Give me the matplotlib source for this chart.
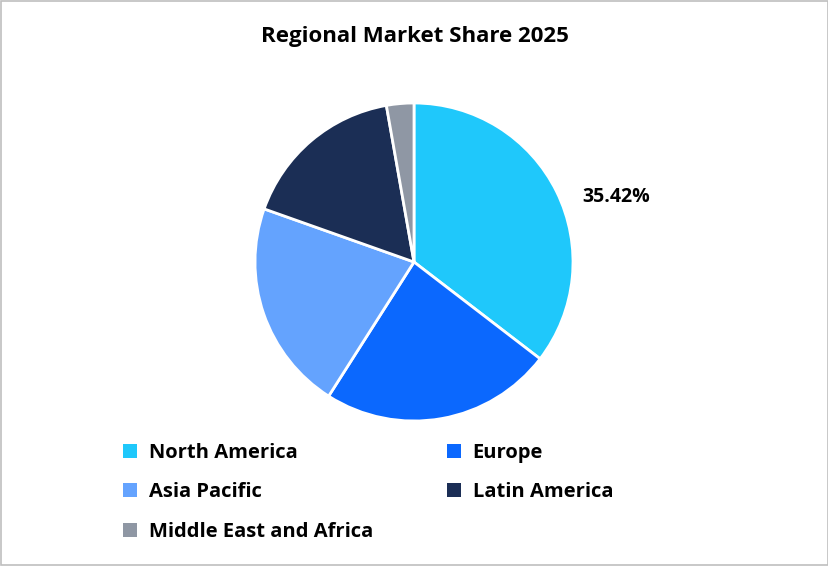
import matplotlib.pyplot as plt
from matplotlib.patches import Patch, Rectangle

regions = ['North America', 'Europe', 'Asia Pacific', 'Latin America', 'Middle East and Africa']
shares = [35.42, 23.6, 21.4, 16.8, 2.78]
colors = ['#1FC8FB', '#0B68FE', '#64A3FE', '#1B2E55', '#8F97A4']

plt.rcParams['font.family'] = ['Open Sans', 'DejaVu Sans']

fig = plt.figure(figsize=(8.29, 5.66), dpi=100)
fig.patches.append(Rectangle((0.001, 0.001), 0.998, 0.997, transform=fig.transFigure,
                             fill=False, edgecolor='#BFBFBF', linewidth=1.2))
fig.text(0.5, 0.935, 'Regional Market Share 2025', ha='center', va='center',
         fontsize=16, fontweight='bold')

r = 159
ax = fig.add_axes([(414 - r) / 829, (566 - 262 - r) / 566, 2 * r / 829, 2 * r / 566])
wedges, _ = ax.pie(shares, colors=colors, startangle=90, counterclock=False,
                   wedgeprops=dict(edgecolor='white', linewidth=2))
ax.set_xlim(-1, 1)
ax.set_ylim(-1, 1)
ax.set_aspect('equal')
ax.text(1.27, 0.41, f'{shares[0]:.2f}%', ha='center', va='center', fontsize=14,
        fontweight='bold', clip_on=False)

handles = [Patch(facecolor=c) for c in colors]
order = [0, 2, 4, 1, 3]
leg = fig.legend([handles[i] for i in order], [regions[i] for i in order],
                 loc='upper left', bbox_to_anchor=(0.126, 0.25), ncol=2, frameon=False,
                 prop=dict(size=14.5, weight='bold'), handlelength=0.7, handleheight=0.7,
                 columnspacing=3.65, labelspacing=0.98, handletextpad=0.6)
fig.savefig('out.png', dpi=100)
